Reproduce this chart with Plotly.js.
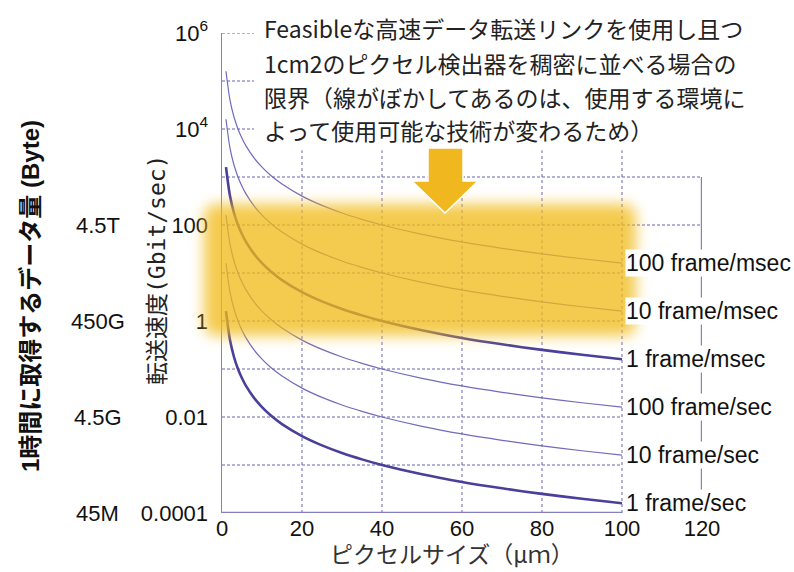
<!DOCTYPE html>
<html>
<head>
<meta charset="utf-8">
<script src="https://cdn.plot.ly/plotly-3.0.1.min.js"></script>
<style>html,body{margin:0;padding:0;background:#fff;}#chart{width:794px;height:572px;}</style>
</head>
<body>
<div id="chart"></div>
<script>
// ---- data ----
const pixelSize = [1,2,3,4,5,6,8,10,12,15,20,25,30,35,40,50,60,70,80,90,100];
const rate1fps   = [1.6,0.4,0.178,0.1,0.064,0.0444,0.025,0.016,0.0111,0.00711,0.004,0.00256,0.00178,0.00131,0.001,0.00064,0.000444,0.000327,0.00025,0.000198,0.00016];
const rate10fps  = [16,4,1.78,1,0.64,0.444,0.25,0.16,0.111,0.0711,0.04,0.0256,0.0178,0.0131,0.01,0.0064,0.00444,0.00327,0.0025,0.00198,0.0016];
const rate100fps = [160,40,17.8,10,6.4,4.44,2.5,1.6,1.11,0.711,0.4,0.256,0.178,0.131,0.1,0.064,0.0444,0.0327,0.025,0.0198,0.016];
const rate1fpms  = [1600,400,178,100,64,44.4,25,16,11.1,7.11,4,2.56,1.78,1.31,1,0.64,0.444,0.327,0.25,0.198,0.16];
const rate10fpms = [16000,4000,1780,1000,640,444,250,160,111,71.1,40,25.6,17.8,13.1,10,6.4,4.44,3.27,2.5,1.98,1.6];
const rate100fpms= [160000,40000,17800,10000,6400,4440,2500,1600,1110,711,400,256,178,131,100,64,44.4,32.7,25,19.8,16];
const seriesNames = ["1 frame/sec","10 frame/sec","100 frame/sec","1 frame/msec","10 frame/msec","100 frame/msec"];
const xTicks = [0,20,40,60,80,100,120];
const yTickVals = [1e-4,1e-2,1,100,1e4,1e6];
const yTickText = ["0.0001","0.01","1","100","10<sup>4</sup>","10<sup>6</sup>"];
const byteLabels = ["45M","4.5G","450G","4.5T"];
const byteLabelVals = [1e-4,1e-2,1,100];
const noteLines = ["Feasibleな高速データ転送リンクを使用し且つ","1cm2のピクセル検出器を稠密に並べる場合の","限界（線がぼかしてあるのは、使用する環境に","よって使用可能な技術が変わるため）"];

// ---- styling ----
const gridColor = "#6b65b4";
const axisColor = "#8580c4";
const thick = "#4a3f9b", thin = "#726bbb";
const seriesData = [rate1fps,rate10fps,rate100fps,rate1fpms,rate10fpms,rate100fpms];
const seriesWidth = [2.6,1.2,1.2,2.6,1.2,1.2];
const seriesColor = [thick,thin,thin,thick,thin,thin];

const traces = [];
function seg(xs, ys, color, width, dash){
  traces.push({x:xs,y:ys,mode:"lines",line:{color:color,width:width,dash:dash},hoverinfo:"skip",showlegend:false,connectgaps:false});
}
// horizontal dashed grid
const hShort=[1e4,1e5,1e6], hLong=[100,1000], hMid=[1e-3,1e-2,0.1,1,10];
function hlines(vals,x1){const xs=[],ys=[];vals.forEach(v=>{xs.push(0,x1,null);ys.push(v,v,null);});return [xs,ys];}
let g=hlines(hMid,100); seg(g[0],g[1],gridColor,1,"3px,2px");
g=hlines(hLong,120); seg(g[0],g[1],gridColor,1,"3px,2px");
g=hlines(hShort,8); seg(g[0],g[1],gridColor,1,"3px,2px");
// vertical dotted grid
(function(){const xs=[],ys=[];[20,40,60,80,100].forEach(v=>{xs.push(v,v,null);ys.push(1e-4,3600,null);});seg(xs,ys,gridColor,1,"dot");})();
// right frame line at 120 and bottom axis line
seg([120,120],[1e-4,1000],axisColor,2.4,"solid");
seg([0,100],[1e-4,1e-4],axisColor,2.6,"solid");
// curves
seriesData.forEach((d,i)=>{
  traces.push({x:pixelSize,y:d,mode:"lines",name:seriesNames[i],line:{color:seriesColor[i],width:seriesWidth[i],shape:"spline",smoothing:0.8},hoverinfo:"skip",showlegend:false});
});

// ---- glow band image ----
const cv=document.createElement("canvas"); cv.width=500; cv.height=190;
const ctx=cv.getContext("2d");
ctx.filter="blur(7px)";
ctx.fillStyle="rgba(241,186,22,0.76)";
(function(x,y,w,h,r){ctx.beginPath();ctx.moveTo(x+r,y);ctx.lineTo(x+w-r,y);ctx.quadraticCurveTo(x+w,y,x+w,y+r);ctx.lineTo(x+w,y+h-r);ctx.quadraticCurveTo(x+w,y+h,x+w-r,y+h);ctx.lineTo(x+r,y+h);ctx.quadraticCurveTo(x,y+h,x,y+h-r);ctx.lineTo(x,y+r);ctx.quadraticCurveTo(x,y,x+r,y);ctx.closePath();ctx.fill();})(24,24,432,132,14);
const glow=cv.toDataURL("image/png");

// ---- annotations ----
const ann=[];
const cjk="Noto Sans CJK JP";
noteLines.forEach((t,i)=>{
  const py=[28,63,97,130][i];
  ann.push({text:t,xref:"paper",yref:"paper",x:(262-222)/480,y:(513-py)/480,xanchor:"left",yanchor:"middle",showarrow:false,font:{family:cjk,size:23,color:"#222"}});
});
seriesNames.forEach((n,i)=>{
  const d=seriesData[i];
  ann.push({text:n,xref:"x",yref:"y",x:100,y:Math.log10(d[d.length-1]),xanchor:"left",yanchor:"middle",xshift:3,showarrow:false,bgcolor:"#fff",borderpad:0,font:{family:"Liberation Sans, Arial",size:23,color:"#111"}});
});
byteLabels.forEach((t,i)=>{
  ann.push({text:t,xref:"paper",yref:"y",x:(98-222)/480,y:Math.log10(byteLabelVals[i]),xanchor:"center",yanchor:"middle",showarrow:false,font:{family:"Liberation Sans, Arial",size:22,color:"#111"}});
});
ann.push({text:"転送速度(Gbit/sec)",xref:"paper",yref:"paper",x:(157-222)/480,y:(513-270)/480,textangle:-90,showarrow:false,xanchor:"center",yanchor:"middle",font:{family:"DejaVu Sans Mono, "+cjk,size:23,color:"#222"}});
ann.push({text:"<b>1時間に取得するデータ量 (Byte)</b>",xref:"paper",yref:"paper",x:(30-222)/480,y:(513-296)/480,textangle:-90,showarrow:false,xanchor:"center",yanchor:"middle",font:{family:"Liberation Sans, "+cjk,size:24,color:"#111"}});
ann.push({text:"ピクセルサイズ（μｍ）",xref:"paper",yref:"paper",x:(452-222)/480,y:(513-553)/480,showarrow:false,xanchor:"center",yanchor:"middle",borderpad:0,font:{family:cjk,size:23,color:"#333"}});

// ---- arrow shape (paper coords) ----
function px(v){return ((v-222)/480).toFixed(4);} function py(v){return ((513-v)/480).toFixed(4);}
const arrowPath=`M ${px(428)},${py(148)} L ${px(463)},${py(148)} L ${px(463)},${py(181)} L ${px(478)},${py(181)} L ${px(445)},${py(213)} L ${px(412)},${py(181)} L ${px(428)},${py(181)} Z`;

const layout={
  width:794,height:572,
  margin:{l:222,r:92,t:33,b:59},
  paper_bgcolor:"#fff",plot_bgcolor:"rgba(0,0,0,0)",
  font:{family:"Liberation Sans, Arial",size:22,color:"#111"},
  xaxis:{range:[0,120],tickvals:xTicks,ticktext:xTicks.map(String),showgrid:false,zeroline:false,showline:false,ticks:"",tickfont:{size:22,color:"#111"},fixedrange:true},
  yaxis:{type:"log",range:[-4,6],tickvals:yTickVals,ticktext:yTickText,showgrid:false,zeroline:false,showline:true,linecolor:axisColor,linewidth:1.5,ticks:"",ticklabelstandoff:8,tickfont:{size:22,color:"#111"},fixedrange:true},
  images:[{source:glow,xref:"paper",yref:"paper",x:(180-222)/480,y:(513-180)/480,sizex:500/480,sizey:190/480,xanchor:"left",yanchor:"top",sizing:"stretch",layer:"above",opacity:1}],
  shapes:[{type:"path",path:arrowPath,xref:"paper",yref:"paper",fillcolor:"#f0b81e",line:{color:"#fff",width:1.5},layer:"above"}],
  annotations:ann,
  showlegend:false
};
Plotly.newPlot("chart",traces,layout,{staticPlot:true,displayModeBar:false});
</script>
</body>
</html>
